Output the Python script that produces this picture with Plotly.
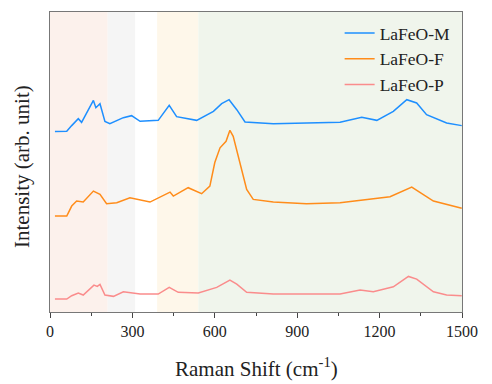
import plotly.graph_objects as go

# Raman shift positions (cm-1) and intensities (arb. units)
m_x = [18, 61, 79, 103, 115, 133, 158, 167, 182, 200, 218, 267, 297, 328, 394, 434, 461, 534, 595, 625, 652, 680, 710, 813, 1056, 1135, 1190, 1250, 1299, 1335, 1371, 1444, 1499]
m_y = [181, 181.3, 187, 194, 190.3, 200, 212.3, 205, 209, 191.3, 189, 195, 197, 191.3, 192.3, 207.3, 196, 192.3, 201.3, 209, 213, 203, 190.7, 189, 190.3, 195.3, 192.3, 201.3, 213, 209.7, 198, 189.7, 187]

f_x = [18, 61, 79, 97, 121, 158, 182, 206, 243, 291, 364, 437, 449, 503, 552, 582, 600, 619, 641, 655, 667, 692, 716, 740, 813, 934, 1056, 1238, 1317, 1396, 1499]
f_y = [96.3, 96.3, 106.3, 111.3, 110.3, 121.3, 118, 108.7, 109.7, 114.7, 110.3, 120.3, 116.3, 124.7, 118.7, 126.3, 150, 164.7, 171.3, 182.3, 176.3, 149.7, 123, 113, 110.3, 108.7, 109.7, 115.7, 125.3, 111.3, 104]

p_x = [18, 61, 79, 103, 121, 146, 160, 172, 182, 200, 231, 267, 328, 394, 434, 467, 540, 607, 655, 680, 716, 813, 1056, 1129, 1177, 1250, 1305, 1335, 1396, 1444, 1499]
p_y = [13, 13, 16.3, 19, 17, 23.7, 27, 25.7, 27.7, 17, 15.7, 20.3, 18, 18, 24.7, 19.7, 19, 24.7, 32, 28, 19.7, 18, 18, 22, 20.3, 25.3, 35.7, 33, 20.3, 17, 16.3]

series_names = ["LaFeO-M", "LaFeO-F", "LaFeO-P"]
series_colors = ["#1e8fff", "#ff8c1a", "#fa8c8c"]

# background bands (cm-1)
band_starts = [0, 210, 390, 540]
band_ends = [210, 310, 540, 1500]
band_colors = ["#fcf1ec", "#f5f5f5", "#fef7ea", "#f0f5ec"]

tick_vals = [0, 300, 600, 900, 1200, 1500]

fig = go.Figure()
for xs, ys, name, col in zip([m_x, f_x, p_x], [m_y, f_y, p_y], series_names, series_colors):
    fig.add_trace(go.Scatter(x=xs, y=ys, mode="lines", name=name,
                             line=dict(color=col, width=1.5)))

shapes = []
for s, e, c in zip(band_starts, band_ends, band_colors):
    shapes.append(dict(type="rect", xref="x", yref="paper", x0=s, x1=e, y0=0, y1=1,
                       fillcolor=c, line=dict(width=0), layer="below"))

annotations = [
    dict(text="Raman Shift (cm<sup>-1</sup>)", xref="paper", yref="paper", x=0.5, y=0,
         xanchor="center", yanchor="middle", yshift=-55, showarrow=False,
         font=dict(size=21, family="Liberation Serif", color="#222")),
    dict(text="Intensity (arb. unit)", xref="paper", yref="paper", x=0, y=0.5,
         xanchor="center", yanchor="middle", xshift=-28, yshift=-5, textangle=-90,
         showarrow=False, font=dict(size=21, family="Liberation Serif", color="#222")),
]

fig.update_layout(
    width=492, height=384,
    margin=dict(l=50, r=30, t=12, b=72, autoexpand=False),
    paper_bgcolor="white", plot_bgcolor="white",
    shapes=shapes,
    annotations=annotations,
    font=dict(family="Liberation Serif", color="#222"),
    showlegend=True,
    legend=dict(x=0.703, y=0.99, xanchor="left", yanchor="top",
                bgcolor="rgba(0,0,0,0)", font=dict(size=17.5),
                tracegroupgap=0, itemwidth=30),
    xaxis=dict(range=[0, 1500], tickvals=tick_vals, ticks="outside", ticklen=5,
               tickcolor="#444", tickfont=dict(size=16), showgrid=False, zeroline=False,
               showline=True, linecolor="#777", linewidth=1.2, mirror=True, automargin=False,
               minor=dict(dtick=150, ticks="outside", ticklen=3, tickcolor="#444")),
    yaxis=dict(range=[0, 301], showticklabels=False, ticks="", showgrid=False, zeroline=False,
               showline=True, linecolor="#777", linewidth=1.2, mirror=True, automargin=False),
)

fig.write_html("out.html", config={"displayModeBar": False},
               post_script="document.body.style.margin='0';document.body.style.overflow='hidden';")
